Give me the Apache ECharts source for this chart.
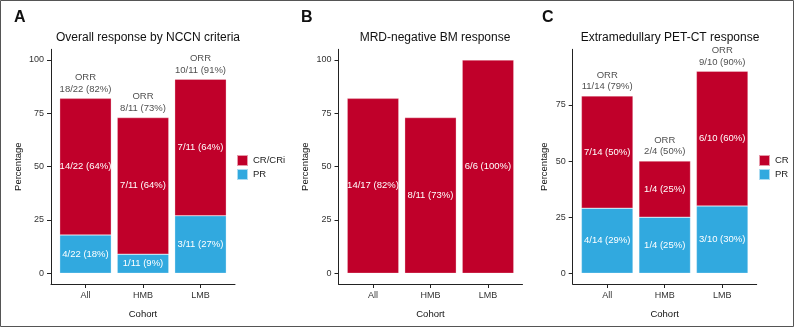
<!DOCTYPE html>
<html>
<head>
<meta charset="utf-8">
<script src="https://cdn.jsdelivr.net/npm/echarts@6/dist/echarts.min.js"></script>
<style>
  html, body { margin: 0; padding: 0; background: #fff; }
  #response_charts { width: 795px; height: 328px; }
</style>
</head>
<body>
<div id="response_charts"></div>
<script>
// cohorts on the x axis
var cohorts = ["All", "HMB", "LMB"];

// A: overall response by NCCN criteria
var nccnPR = [18, 9, 27];
var nccnCR = [64, 64, 64];
var nccnPRText = ["4/22 (18%)", "1/11 (9%)", "3/11 (27%)"];
var nccnCRText = ["14/22 (64%)", "7/11 (64%)", "7/11 (64%)"];
var nccnORR = [82, 73, 91];
var nccnORRText = ["18/22 (82%)", "8/11 (73%)", "10/11 (91%)"];

// B: MRD-negative BM response
var mrdNeg = [82, 73, 100];
var mrdText = ["14/17 (82%)", "8/11 (73%)", "6/6 (100%)"];

// C: extramedullary PET-CT response
var petPR = [29, 25, 30];
var petCR = [50, 25, 60];
var petPRText = ["4/14 (29%)", "1/4 (25%)", "3/10 (30%)"];
var petCRText = ["7/14 (50%)", "1/4 (25%)", "6/10 (60%)"];
var petORR = [79, 50, 90];
var petORRText = ["11/14 (79%)", "2/4 (50%)", "9/10 (90%)"];

var ticksAB = [0, 25, 50, 75, 100];
var ticksC = [0, 25, 50, 75];

var RED = "#C0002A";
var BLUE = "#31A9DF";
var AXIS = "#222";
var FONT = "Liberation Sans, Arial, sans-serif";

function xAxisFor(gridIndex) {
  return {
    type: "value",
    gridIndex: gridIndex,
    min: -0.6,
    max: 2.6,
    name: "Cohort",
    nameLocation: "middle",
    nameGap: 25,
    nameTextStyle: { fontFamily: FONT, fontSize: 9.5, color: "#111" },
    axisLine: { onZero: false, lineStyle: { color: AXIS, width: 1 } },
    axisTick: { customValues: [0, 1, 2], length: 4, lineStyle: { color: AXIS } },
    axisLabel: {
      customValues: [0, 1, 2],
      margin: 7,
      fontFamily: FONT,
      fontSize: 9,
      color: "#333",
      formatter: function (v) { return cohorts[Math.round(v)]; }
    },
    splitLine: { show: false }
  };
}

function yAxisFor(gridIndex, min, max, ticks, gap) {
  return {
    type: "value",
    gridIndex: gridIndex,
    min: min,
    max: max,
    name: "Percentage",
    nameLocation: "middle",
    nameGap: gap,
    nameTextStyle: { fontFamily: FONT, fontSize: 9.5, color: "#111" },
    axisLine: { show: true, onZero: false, lineStyle: { color: AXIS, width: 1 } },
    axisTick: { show: true, customValues: ticks, length: 4, lineStyle: { color: AXIS } },
    axisLabel: { customValues: ticks, margin: 7, fontFamily: FONT, fontSize: 9, color: "#333" },
    splitLine: { show: false }
  };
}

// value first so the stack goes on the y values
function pairs(values) {
  return values.map(function (v, i) { return [v, i]; });
}

function barSeries(name, idx, stack, values, texts, color) {
  return {
    name: name,
    type: "bar",
    xAxisIndex: idx,
    yAxisIndex: idx,
    stack: stack,
    barWidth: 51.6,
    encode: { x: 1, y: 0 },
    data: pairs(values),
    itemStyle: { color: color, borderColor: "rgba(255,255,255,0.6)", borderWidth: 0.5 },
    label: {
      show: true,
      position: "inside",
      color: "#fff",
      fontFamily: FONT,
      fontSize: 9.5,
      formatter: function (p) { return texts[p.dataIndex]; }
    }
  };
}

function orrSeries(idx, values, texts) {
  return {
    type: "scatter",
    xAxisIndex: idx,
    yAxisIndex: idx,
    symbolSize: 1,
    silent: true,
    encode: { x: 1, y: 0 },
    itemStyle: { color: "rgba(0,0,0,0)" },
    data: pairs(values),
    label: {
      show: true,
      position: "top",
      distance: 3,
      color: "#222",
      fontFamily: FONT,
      fontSize: 9.5,
      lineHeight: 11.5,
      formatter: function (p) { return "ORR\n" + texts[p.dataIndex]; }
    }
  };
}

var myChart = echarts.init(document.getElementById("response_charts"));

var option = {
  animation: false,
  title: [
    { text: "A", left: 9, top: 5, textStyle: { fontFamily: FONT, fontWeight: "bold", fontSize: 16, color: "#111" } },
    { text: "B", left: 296, top: 5, textStyle: { fontFamily: FONT, fontWeight: "bold", fontSize: 16, color: "#111" } },
    { text: "C", left: 537, top: 5, textStyle: { fontFamily: FONT, fontWeight: "bold", fontSize: 16, color: "#111" } },
    { text: "Overall response by NCCN criteria", left: 143, top: 27, textAlign: "center",
      textStyle: { fontFamily: FONT, fontWeight: "normal", fontSize: 12, color: "#111" } },
    { text: "MRD-negative BM response", left: 430, top: 27, textAlign: "center",
      textStyle: { fontFamily: FONT, fontWeight: "normal", fontSize: 12, color: "#111" } },
    { text: "Extramedullary PET-CT response", left: 665, top: 27, textAlign: "center",
      textStyle: { fontFamily: FONT, fontWeight: "normal", fontSize: 12, color: "#111" } }
  ],
  legend: [
    {
      data: ["CR/CRi", "PR"], orient: "vertical", left: 236, top: 154, padding: 0,
      itemWidth: 11, itemHeight: 11, itemGap: 1, icon: "rect", selectedMode: false,
      textStyle: { fontFamily: FONT, fontSize: 9.5, color: "#222" }
    },
    {
      data: ["CR", "PR"], orient: "vertical", left: 758, top: 154, padding: 0,
      itemWidth: 11, itemHeight: 11, itemGap: 1, icon: "rect", selectedMode: false,
      textStyle: { fontFamily: FONT, fontSize: 9.5, color: "#222" }
    }
  ],
  grid: [
    { left: 51, top: 49.3, width: 184, height: 234.7 },
    { left: 338.5, top: 49.3, width: 184, height: 234.7 },
    { left: 572.7, top: 49.3, width: 184, height: 234.7 }
  ],
  xAxis: [xAxisFor(0), xAxisFor(1), xAxisFor(2)],
  yAxis: [
    yAxisFor(0, -5, 105, ticksAB, 28),
    yAxisFor(1, -5, 105, ticksAB, 28),
    yAxisFor(2, -4.75, 99.75, ticksC, 23)
  ],
  series: [
    barSeries("PR", 0, "a", nccnPR, nccnPRText, BLUE),
    barSeries("CR/CRi", 0, "a", nccnCR, nccnCRText, RED),
    orrSeries(0, nccnORR, nccnORRText),
    barSeries("MRD-negative", 1, "b", mrdNeg, mrdText, RED),
    barSeries("PR", 2, "c", petPR, petPRText, BLUE),
    barSeries("CR", 2, "c", petCR, petCRText, RED),
    orrSeries(2, petORR, petORRText)
  ],
  graphic: [
    {
      type: "rect",
      shape: { x: 0.5, y: 0.5, width: 793, height: 326 },
      style: { fill: "none", stroke: "#555", lineWidth: 1 },
      silent: true
    }
  ]
};

myChart.setOption(option);
window.onresize = myChart.resize;
</script>
</body>
</html>
